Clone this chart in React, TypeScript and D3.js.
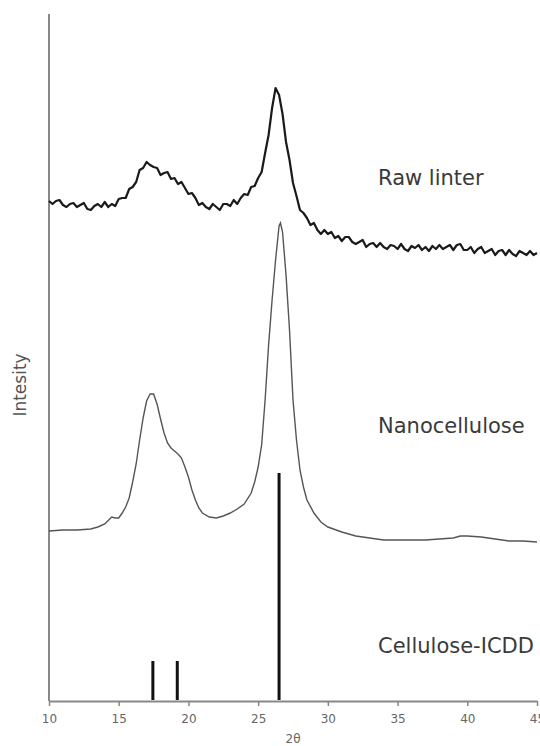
import { useEffect, useRef } from "react";
import * as d3 from "d3";

// Raw linter: sampled every 0.25 deg from 10 to 45 (2θ), noisy diffractogram
const rawStart = 10;
const rawStep = 0.25;
const rawValues = [
  499, 496, 499, 500, 495, 493, 496, 497, 493, 495, 497, 491, 490, 494, 496, 493,
  498, 493, 496, 494, 501, 502, 502, 511, 513, 518, 530, 532, 538, 535, 533, 532,
  525, 527, 528, 521, 522, 516, 518, 512, 506, 507, 502, 495, 497, 493, 491, 496,
  493, 490, 496, 496, 494, 500, 496, 502, 506, 505, 513, 514, 522, 528, 547, 565,
  592, 612, 605, 586, 558, 540, 517, 504, 490, 487, 482, 475, 477, 470, 466, 470,
  466, 468, 462, 464, 459, 463, 463, 458, 456, 458, 460, 453, 456, 457, 453, 457,
  453, 451, 455, 454, 451, 456, 451, 449, 454, 452, 455, 450, 453, 449, 454, 451,
  455, 451, 453, 455, 450, 455, 456, 450, 450, 453, 447, 451, 453, 447, 449, 451,
  445, 449, 450, 445, 450, 446, 444, 449, 447, 445, 449, 445, 447,
];

// Nanocellulose: [2θ, intensity]
const nanoPoints: [number, number][] = [
  [10, 169], [11, 170], [12, 170], [13, 171], [13.5, 173], [14, 176], [14.5, 183],
  [14.75, 182], [15, 182], [15.25, 187], [15.5, 193], [15.75, 202], [16, 218],
  [16.25, 236], [16.5, 260], [16.75, 282], [17, 299], [17.25, 306], [17.5, 306],
  [17.75, 296], [18, 281], [18.25, 267], [18.5, 257], [18.75, 252], [19, 249],
  [19.25, 246], [19.5, 242], [19.75, 233], [20, 223], [20.25, 210], [20.5, 200],
  [20.75, 192], [21, 187], [21.5, 183], [22, 182], [22.5, 184], [23, 187],
  [23.5, 191], [24, 196], [24.5, 207], [24.75, 218], [25, 233], [25.25, 255],
  [25.5, 300], [25.75, 355], [26, 400], [26.25, 440], [26.5, 474], [26.6, 477],
  [26.75, 468], [27, 425], [27.25, 370], [27.5, 300], [27.75, 260], [28, 230],
  [28.25, 213], [28.5, 200], [29, 187], [29.5, 178], [30, 173], [31, 168],
  [32, 164], [33, 162], [34, 160], [35, 160], [36, 160], [37, 160], [38, 161],
  [39, 162], [39.5, 164], [40, 164], [41, 163], [42, 161], [43, 159], [44, 159],
  [45, 158],
];

// Cellulose ICDD reference lines
const icddAngles = [17.45, 19.2, 26.5];
const icddHeights = [39, 39, 227];

const xTicks = [10, 15, 20, 25, 30, 35, 40, 45];

const labels = ["Raw linter", "Nanocellulose", "Cellulose-ICDD"];
const labelY = [185, 433, 653];

const XrdChart = () => {
  const ref = useRef<SVGSVGElement>(null);

  useEffect(() => {
    const width = 540;
    const height = 746;
    const x0 = 49;
    const x1 = 537;
    const yBase = 700;

    const svg = d3.select(ref.current).attr("viewBox", `0 0 ${width} ${height}`);
    svg.selectAll("*").remove();

    const x = d3.scaleLinear().domain([10, 45]).range([x0, x1]);
    const y = d3.scaleLinear().domain([0, 690]).range([yBase, 10]);

    // axes
    svg
      .append("line")
      .attr("x1", x0)
      .attr("x2", x0)
      .attr("y1", 14)
      .attr("y2", yBase + 1)
      .attr("stroke", "#888")
      .attr("stroke-width", 2);

    const xAxis = svg
      .append("g")
      .attr("transform", `translate(0, ${yBase + 1})`)
      .call(d3.axisBottom(x).tickValues(xTicks).tickSize(5).tickSizeOuter(0).tickPadding(8));
    xAxis.select(".domain").attr("stroke", "#888").attr("stroke-width", 2);
    xAxis.selectAll(".tick line").attr("stroke", "#888").attr("stroke-width", 1.5);
    xAxis
      .selectAll(".tick text")
      .attr("fill", "#666")
      .style("font-family", "DejaVu Sans")
      .style("font-size", "12px");

    svg
      .append("text")
      .attr("x", (x0 + x1) / 2)
      .attr("y", 743)
      .attr("text-anchor", "middle")
      .style("font-family", "DejaVu Sans")
      .style("font-size", "12px")
      .style("fill", "#666")
      .text("2θ");

    svg
      .append("text")
      .attr("transform", "translate(26, 385) rotate(-90)")
      .attr("text-anchor", "middle")
      .style("font-family", "DejaVu Sans")
      .style("font-size", "17px")
      .style("fill", "#555")
      .text("Intesity");

    // ICDD reference bars
    svg
      .selectAll("line.icdd")
      .data(icddAngles)
      .enter()
      .append("line")
      .attr("class", "icdd")
      .attr("x1", (d) => x(d))
      .attr("x2", (d) => x(d))
      .attr("y1", y(0))
      .attr("y2", (d, i) => y(icddHeights[i]))
      .attr("stroke", "#111")
      .attr("stroke-width", 3);

    const line = d3
      .line<[number, number]>()
      .x((d) => x(d[0]))
      .y((d) => y(d[1]));

    svg
      .append("path")
      .attr("d", line(nanoPoints) as string)
      .attr("fill", "none")
      .attr("stroke", "#555")
      .attr("stroke-width", 1.4);

    const rawPoints: [number, number][] = rawValues.map((v, i) => [rawStart + i * rawStep, v]);
    svg
      .append("path")
      .attr("d", line(rawPoints) as string)
      .attr("fill", "none")
      .attr("stroke", "#1a1a1a")
      .attr("stroke-width", 2.2)
      .attr("stroke-linejoin", "round");

    // series labels
    svg
      .selectAll("text.label")
      .data(labels)
      .enter()
      .append("text")
      .attr("class", "label")
      .attr("x", 378)
      .attr("y", (d, i) => labelY[i])
      .style("font-family", "DejaVu Sans")
      .style("font-size", "21px")
      .style("fill", "#3a3a3a")
      .text((d) => d);
  }, []);

  return (
    <svg
      ref={ref}
      width={540}
      height={746}
      style={{ position: "absolute", left: 0, top: 0, display: "block", background: "#fff" }}
    ></svg>
  );
};

export default function App() {
  return <XrdChart />;
}
